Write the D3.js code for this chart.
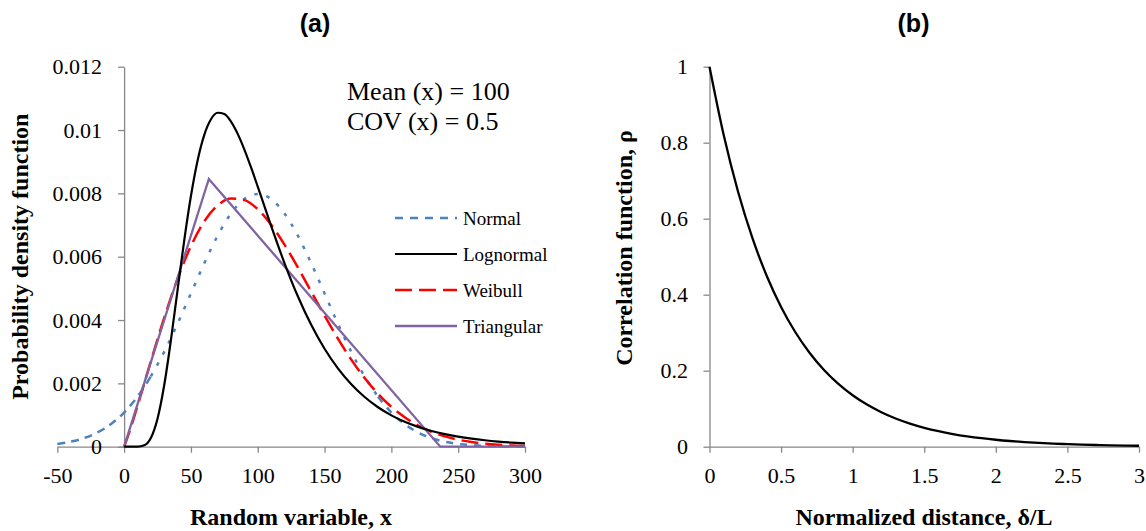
<!DOCTYPE html>
<html><head><meta charset="utf-8">
<script src="https://cdn.jsdelivr.net/npm/d3@7"></script>
<style>body{margin:0;background:#fff}svg{display:block}</style>
</head><body>
<svg id="c" width="1146" height="531"></svg>
<script>
// ---------- Panel (a) data ----------
const normalX = [-50,-40,-30,-20,-10,0,10,20,30,40,50,60,70,80,90,100,110,120,130,140,150,160,170,180,190,200,210,220,230,240,250,260,270,280,290,300];
const normalY = [0.0000886,0.0001583,0.0002717,0.0004479,0.0007095,0.0010798,0.0015790,0.0022184,0.0029945,0.0038837,0.0048394,0.0057938,0.0066645,0.0073654,0.0078208,0.0079788,0.0078208,0.0073654,0.0066645,0.0057938,0.0048394,0.0038837,0.0029945,0.0022184,0.0015790,0.0010798,0.0007095,0.0004479,0.0002717,0.0001583,0.0000886,0.0000477,0.0000246,0.0000122,0.0000058,0.0000027];

const lognormalX = [0,5,10,15,20,25,30,35,40,45,50,55,60,65,70,75,80,85,90,95,100,110,120,130,140,150,160,170,180,190,200,210,220,230,240,250,260,270,280,290,300];
const lognormalY = [0,0.0000000,0.0000018,0.0000445,0.0002767,0.0008858,0.0019410,0.0033563,0.0049468,0.0065186,0.0079153,0.0090391,0.0098475,0.0103402,0.0105451,0.0105042,0.0102661,0.0098780,0.0093830,0.0088179,0.0082133,0.0069757,0.0057996,0.0047494,0.0038476,0.0030932,0.0024740,0.0019719,0.0015683,0.0012460,0.0009896,0.0007862,0.0006251,0.0004976,0.0003966,0.0003166,0.0002533,0.0002030,0.0001630,0.0001311,0.0001057];

const weibullX = [0,5,10,20,30,40,50,60,70,80,90,100,110,120,130,140,150,160,170,180,190,200,210,220,230,240,250,260,270,280,290,300];
const weibullY = [0,0.000602,0.0012846,0.0026989,0.0040679,0.0053032,0.0063353,0.0071163,0.0076192,0.0078375,0.0077870,0.0074977,0.0070126,0.0063834,0.0056617,0.0048985,0.0041375,0.0034128,0.0027504,0.0021680,0.0016702,0.0012582,0.0009284,0.0006698,0.0004724,0.0003266,0.0002208,0.0001463,0.0000948,0.0000602,0.0000374,0.0000227];

const triangularX = [0,63.4,236.6,300];
const triangularY = [0,0.008453,0,0];

const seriesNames = ["Normal","Lognormal","Weibull","Triangular"];

const xTicksA = [-50,0,50,100,150,200,250,300];
const xTickLabelsA = ["-50","0","50","100","150","200","250","300"];
const yTicksA = [0,0.002,0.004,0.006,0.008,0.01,0.012];
const yTickLabelsA = ["0","0.002","0.004","0.006","0.008","0.01","0.012"];

// ---------- Panel (b) data ----------
const distX = [0,0.1,0.2,0.3,0.4,0.5,0.6,0.7,0.8,0.9,1.0,1.1,1.2,1.3,1.4,1.5,1.6,1.7,1.8,1.9,2.0,2.1,2.2,2.3,2.4,2.5,2.6,2.7,2.8,2.9,3.0];
const rhoY = [1,0.818731,0.670320,0.548812,0.449329,0.367879,0.301194,0.246597,0.201897,0.165299,0.135335,0.110803,0.090718,0.074274,0.060810,0.049787,0.040762,0.033373,0.027324,0.022371,0.018316,0.014996,0.012277,0.010052,0.008230,0.006738,0.005517,0.004517,0.003698,0.003028,0.002479];

const xTicksB = [0,0.5,1,1.5,2,2.5,3];
const xTickLabelsB = ["0","0.5","1","1.5","2","2.5","3"];
const yTicksB = [0,0.2,0.4,0.6,0.8,1];
const yTickLabelsB = ["0","0.2","0.4","0.6","0.8","1"];

// ---------- drawing ----------
const svg = d3.select("#c");
const SERIF = "'Liberation Serif','Times New Roman',serif";
const SANS = "'Liberation Sans',Arial,sans-serif";
const AXIS = "#878787";
const zip = (xs, ys) => xs.map((x, i) => ({x, y: ys[i]}));

function styleAxis(g) {
  g.selectAll(".domain").attr("stroke", AXIS).attr("stroke-width", 1.3);
  g.selectAll(".tick line").attr("stroke", AXIS).attr("stroke-width", 1.3);
  g.selectAll(".tick text").attr("fill", "#000").style("font-family", SERIF).style("font-size", "22px");
}

// Panel (a)
const xA = d3.scaleLinear().domain([-50, 300]).range([57.3, 525]);
const yA = d3.scaleLinear().domain([0, 0.012]).range([446.7, 66.7]);

const gxA = svg.append("g").attr("transform", `translate(0,${yA(0)})`)
  .call(d3.axisBottom(xA).tickValues(xTicksA).tickFormat((d, i) => xTickLabelsA[i]).tickSize(6).tickSizeOuter(0).tickPadding(14.5));
styleAxis(gxA);
const gyA = svg.append("g").attr("transform", `translate(${xA(0)},0)`)
  .call(d3.axisLeft(yA).tickValues(yTicksA).tickFormat((d, i) => yTickLabelsA[i]).tickSize(6).tickSizeOuter(0).tickPadding(16));
styleAxis(gyA);

const lineA = d3.line().x(d => xA(d.x)).y(d => yA(d.y)).curve(d3.curveMonotoneX);
const lineLin = d3.line().x(d => xA(d.x)).y(d => yA(d.y));

const normalData = zip(normalX, normalY);
const styles = {
  Normal: {color: "#4F81BD", width: 2.5, dash: "8,6"},
  Lognormal: {color: "#000000", width: 2.2, dash: null},
  Weibull: {color: "#FF0000", width: 2.5, dash: "17,7"},
  Triangular: {color: "#8064A2", width: 2.3, dash: null}
};

// Normal: dashed tails, finer dots through the body (as rendered in the reference)
const nLeft = normalData.filter(d => d.x <= 20);
const nMid = normalData.filter(d => d.x >= 20 && d.x <= 190);
const nRight = normalData.filter(d => d.x >= 190);
[[nLeft, "8,6"], [nMid, "3.5,9"], [nRight, "7,7"]].forEach(([dd, dash]) => {
  svg.append("path").attr("d", lineA(dd)).attr("fill", "none")
    .attr("stroke", styles.Normal.color).attr("stroke-width", styles.Normal.width)
    .attr("stroke-dasharray", dash);
});

svg.append("path").attr("d", lineA(zip(weibullX, weibullY))).attr("fill", "none")
  .attr("stroke", styles.Weibull.color).attr("stroke-width", styles.Weibull.width)
  .attr("stroke-dasharray", styles.Weibull.dash);
svg.append("path").attr("d", lineLin(zip(triangularX, triangularY))).attr("fill", "none")
  .attr("stroke", styles.Triangular.color).attr("stroke-width", styles.Triangular.width)
  .attr("stroke-linejoin", "miter");
svg.append("path").attr("d", lineA(zip(lognormalX, lognormalY))).attr("fill", "none")
  .attr("stroke", styles.Lognormal.color).attr("stroke-width", styles.Lognormal.width);

// Legend
const legendY = [218, 254, 290, 326];
seriesNames.forEach((name, i) => {
  const s = styles[name];
  svg.append("line").attr("x1", 395).attr("x2", 457).attr("y1", legendY[i]).attr("y2", legendY[i])
    .attr("stroke", s.color).attr("stroke-width", s.width)
    .attr("stroke-dasharray", name === "Normal" ? "8,7" : s.dash);
  svg.append("text").attr("x", 463).attr("y", legendY[i]).attr("dy", "0.35em")
    .style("font-family", SERIF).style("font-size", "19px").text(name);
});

// Annotation
svg.append("text").attr("x", 347).attr("y", 100).style("font-family", SERIF).style("font-size", "26px").text("Mean (x) = 100");
svg.append("text").attr("x", 347).attr("y", 130).style("font-family", SERIF).style("font-size", "26px").text("COV (x) = 0.5");

// Titles (a)
svg.append("text").attr("x", 315).attr("y", 32).attr("text-anchor", "middle")
  .style("font-family", SANS).style("font-weight", "bold").style("font-size", "25px").text("(a)");
svg.append("text").attr("x", 291).attr("y", 525).attr("text-anchor", "middle")
  .style("font-family", SERIF).style("font-weight", "bold").style("font-size", "24px").text("Random variable, x");
svg.append("text").attr("transform", "translate(28,256.7) rotate(-90)").attr("text-anchor", "middle")
  .style("font-family", SERIF).style("font-weight", "bold").style("font-size", "24px").text("Probability density function");

// Panel (b)
const xB = d3.scaleLinear().domain([0, 3]).range([709.5, 1139]);
const yB = d3.scaleLinear().domain([0, 1]).range([446.7, 66.7]);
const gxB = svg.append("g").attr("transform", `translate(0,${yB(0)})`)
  .call(d3.axisBottom(xB).tickValues(xTicksB).tickFormat((d, i) => xTickLabelsB[i]).tickSize(6).tickSizeOuter(0).tickPadding(14.5));
styleAxis(gxB);
const gyB = svg.append("g").attr("transform", `translate(${xB(0)},0)`)
  .call(d3.axisLeft(yB).tickValues(yTicksB).tickFormat((d, i) => yTickLabelsB[i]).tickSize(6).tickSizeOuter(0).tickPadding(15.5));
styleAxis(gyB);

const lineB = d3.line().x(d => xB(d.x)).y(d => yB(d.y)).curve(d3.curveMonotoneX);
svg.append("path").attr("d", lineB(zip(distX, rhoY))).attr("fill", "none")
  .attr("stroke", "#000").attr("stroke-width", 2.3);

svg.append("text").attr("x", 913.5).attr("y", 32).attr("text-anchor", "middle")
  .style("font-family", SANS).style("font-weight", "bold").style("font-size", "25px").text("(b)");
svg.append("text").attr("x", 924).attr("y", 525).attr("text-anchor", "middle")
  .style("font-family", SERIF).style("font-weight", "bold").style("font-size", "24px").text("Normalized distance, δ/L");
svg.append("text").attr("transform", "translate(632,248) rotate(-90)").attr("text-anchor", "middle")
  .style("font-family", SERIF).style("font-weight", "bold").style("font-size", "24px").text("Correlation function, ρ");
</script>
</body></html>
